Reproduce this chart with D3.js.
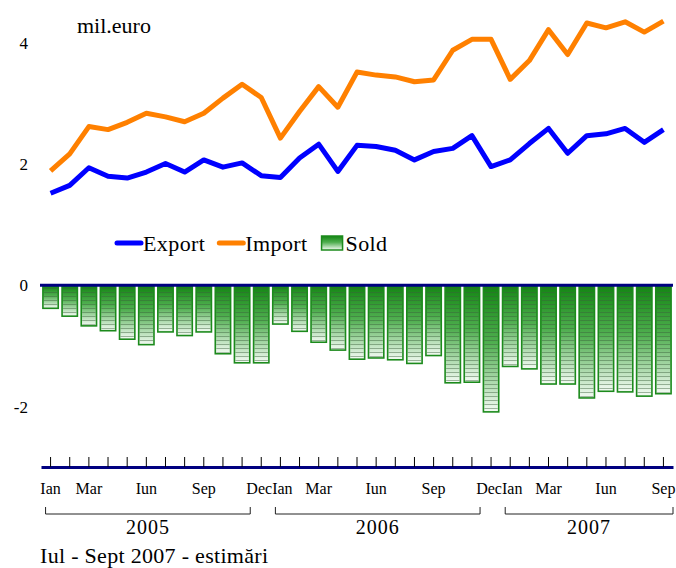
<!DOCTYPE html>
<html lang="ro">
<head>
  <meta charset="utf-8">
  <script src="https://d3js.org/d3.v7.min.js"></script>
  <style>
    body { margin: 0; background: #fff; }
    svg text { font-family: "Liberation Serif", "DejaVu Serif", "Times New Roman", serif !important; fill: #000; }
  </style>
</head>
<body>
  <svg id="chart" width="676" height="568"></svg>

  <script>
    // months Ian 2005 - Sep 2007
    const months = ["Ian", "Feb", "Mar", "Apr", "Mai", "Iun", "Iul", "Aug", "Sep", "Oct", "Nov", "Dec",
      "Ian", "Feb", "Mar", "Apr", "Mai", "Iun", "Iul", "Aug", "Sep", "Oct", "Nov", "Dec",
      "Ian", "Feb", "Mar", "Apr", "Mai", "Iun", "Iul", "Aug", "Sep"];
    const shownMonths = ["Ian", "Mar", "Iun", "Sep", "Dec"];

    const exportVals = [1.52, 1.65, 1.94, 1.80, 1.77, 1.87, 2.01, 1.87, 2.07, 1.95, 2.02, 1.81,
      1.78, 2.10, 2.33, 1.88, 2.31, 2.29, 2.23, 2.07, 2.21, 2.26, 2.47, 1.96,
      2.07, 2.34, 2.59, 2.18, 2.47, 2.50, 2.59, 2.36, 2.57];
    const importVals = [1.89, 2.17, 2.62, 2.57, 2.69, 2.84, 2.78, 2.70, 2.84, 3.09, 3.32, 3.10,
      2.43, 2.87, 3.28, 2.94, 3.52, 3.47, 3.44, 3.36, 3.39, 3.88, 4.06, 4.06,
      3.40, 3.71, 4.22, 3.81, 4.33, 4.25, 4.35, 4.18, 4.36];
    const soldVals = [-0.38, -0.51, -0.67, -0.75, -0.89, -0.98, -0.77, -0.83, -0.77, -1.13, -1.28, -1.28,
      -0.64, -0.76, -0.94, -1.07, -1.22, -1.20, -1.23, -1.29, -1.16, -1.61, -1.60, -2.09,
      -1.34, -1.38, -1.63, -1.63, -1.86, -1.75, -1.76, -1.83, -1.79];

    const yTicks = [4, 2, 0, -2];
    const years = ["2005", "2006", "2007"];
    const yearSpans = [[0, 11], [12, 23], [24, 32]];

    const svg = d3.select("svg#chart");
    const idx = d3.range(months.length);
    const serif = "Liberation Serif, DejaVu Serif, serif";

    const x = d3.scaleBand()
      .domain(idx)
      .range([41, 673])
      .paddingInner(0.2)
      .paddingOuter(0.1);
    const cx = (i) => x(i) + x.bandwidth() / 2;

    const y = d3.scaleLinear()
      .domain([-3, 4])
      .range([467, 43]);

    // gradient + stripes for the Sold bars
    const defs = svg.append("defs");
    const grad = defs.append("linearGradient")
      .attr("id", "soldGrad")
      .attr("x1", 0).attr("y1", 0).attr("x2", 0).attr("y2", 1);
    grad.append("stop").attr("offset", "0%").attr("stop-color", "#128512");
    grad.append("stop").attr("offset", "45%").attr("stop-color", "#4fae4f");
    grad.append("stop").attr("offset", "100%").attr("stop-color", "#f4fbf4");

    const stripes = defs.append("pattern")
      .attr("id", "soldStripes")
      .attr("patternUnits", "userSpaceOnUse")
      .attr("width", 6).attr("height", 4);
    stripes.append("rect")
      .attr("width", 6).attr("height", 1)
      .attr("fill", "#3d5f3d")
      .attr("opacity", 0.45);

    // title
    svg.append("text")
      .attr("x", 77)
      .attr("y", 33)
      .attr("font-family", serif)
      .attr("font-size", 22)
      .text("mil.euro");

    // y labels
    const yAxis = svg.append("g")
      .attr("transform", "translate(28,0)")
      .call(d3.axisLeft(y).tickValues(yTicks).tickSize(0).tickPadding(0).tickFormat(d3.format("d")));
    yAxis.attr("font-family", serif);
    yAxis.select(".domain").remove();
    yAxis.selectAll("text")
      .attr("font-size", 17)
      .attr("dy", "0.33em")
      .text((d) => d < 0 ? "-" + Math.abs(d) : d);

    // bars
    const bars = svg.append("g");
    bars.selectAll("rect.sold")
      .data(soldVals)
      .join("rect")
      .attr("class", "sold")
      .attr("x", (d, i) => x(i))
      .attr("y", y(0))
      .attr("width", x.bandwidth())
      .attr("height", (d) => y(d) - y(0))
      .attr("fill", "url(#soldGrad)")
      .attr("stroke", "#1c8a1c")
      .attr("stroke-width", 1.6);
    bars.selectAll("rect.stripe")
      .data(soldVals)
      .join("rect")
      .attr("class", "stripe")
      .attr("x", (d, i) => x(i) + 1)
      .attr("y", y(0) + 2)
      .attr("width", x.bandwidth() - 2)
      .attr("height", (d) => y(d) - y(0) - 3)
      .attr("fill", "url(#soldStripes)");

    // zero line
    svg.append("line")
      .attr("x1", 40).attr("x2", 673)
      .attr("y1", y(0)).attr("y2", y(0))
      .attr("stroke", "#000080")
      .attr("stroke-width", 3);

    // lines
    const line = d3.line()
      .x((d, i) => cx(i))
      .y((d) => y(d));

    svg.append("path")
      .datum(importVals)
      .attr("d", line)
      .attr("fill", "none")
      .attr("stroke", "#ff8000")
      .attr("stroke-width", 5)
      .attr("stroke-linejoin", "round");

    svg.append("path")
      .datum(exportVals)
      .attr("d", line)
      .attr("fill", "none")
      .attr("stroke", "#0000ff")
      .attr("stroke-width", 5)
      .attr("stroke-linejoin", "round");

    // legend
    const legendItems = [
      { name: "Export", type: "line", color: "#0000ff" },
      { name: "Import", type: "line", color: "#ff8000" },
      { name: "Sold", type: "box" }
    ];
    const legend = svg.append("g").attr("transform", "translate(117,243)");
    let lx = 0;
    legendItems.forEach((it) => {
      const g = legend.append("g").attr("transform", "translate(" + lx + ",0)");
      let sw;
      if (it.type == "line") {
        g.append("line")
          .attr("x1", 0).attr("x2", 24)
          .attr("y1", 0).attr("y2", 0)
          .attr("stroke", it.color)
          .attr("stroke-width", 5)
          .attr("stroke-linecap", "round");
        sw = 26;
      } else {
        g.append("rect")
          .attr("x", 0).attr("y", -7)
          .attr("width", 21).attr("height", 14)
          .attr("fill", "url(#soldGrad)")
          .attr("stroke", "#1c8a1c")
          .attr("stroke-width", 1.5);
        sw = 24;
      }
      const t = g.append("text")
        .attr("x", sw)
        .attr("y", 7.5)
        .attr("font-family", serif)
        .attr("font-size", 22)
        .attr("letter-spacing", 0.4)
        .text(it.name);
      lx += sw + t.node().getComputedTextLength() + 14;
    });

    // bottom axis
    const xAxis = svg.append("g")
      .attr("transform", "translate(0," + y(-3) + ")")
      .call(d3.axisBottom(x)
        .tickSizeInner(-10)
        .tickSizeOuter(0)
        .tickPadding(16)
        .tickFormat((i) => shownMonths.includes(months[i]) ? months[i] : ""));
    xAxis.attr("font-family", serif);
    xAxis.select(".domain")
      .attr("stroke", "#000080")
      .attr("stroke-width", 3);
    xAxis.selectAll(".tick line").attr("stroke", "#000");
    xAxis.selectAll(".tick text")
      .attr("font-size", 16)
      .attr("fill", "#000")
      .attr("dx", (i) => months[i] == "Dec" ? -2 : (months[i] == "Ian" && i > 0 ? 2 : 0));

    // year brackets
    const br = svg.append("g");
    yearSpans.forEach((s, k) => {
      const x1 = cx(s[0]) - 5;
      const x2 = k < yearSpans.length - 1 ? cx(s[1]) - 11 : x.range()[1];
      br.append("path")
        .attr("d", "M" + x1 + ",507V514H" + x2 + "V507")
        .attr("fill", "none")
        .attr("stroke", "#222")
        .attr("stroke-width", 1);
      br.append("text")
        .attr("x", (x1 + x2) / 2)
        .attr("y", 534)
        .attr("text-anchor", "middle")
        .attr("font-family", serif)
        .attr("font-size", 20)
        .attr("letter-spacing", 1)
        .text(years[k]);
    });

    // note
    svg.append("text")
      .attr("x", 40)
      .attr("y", 563)
      .attr("font-family", serif)
      .attr("font-size", 22)
      .attr("letter-spacing", 0.3)
      .text("Iul - Sept 2007 - estimări");
  </script>
</body>
</html>
